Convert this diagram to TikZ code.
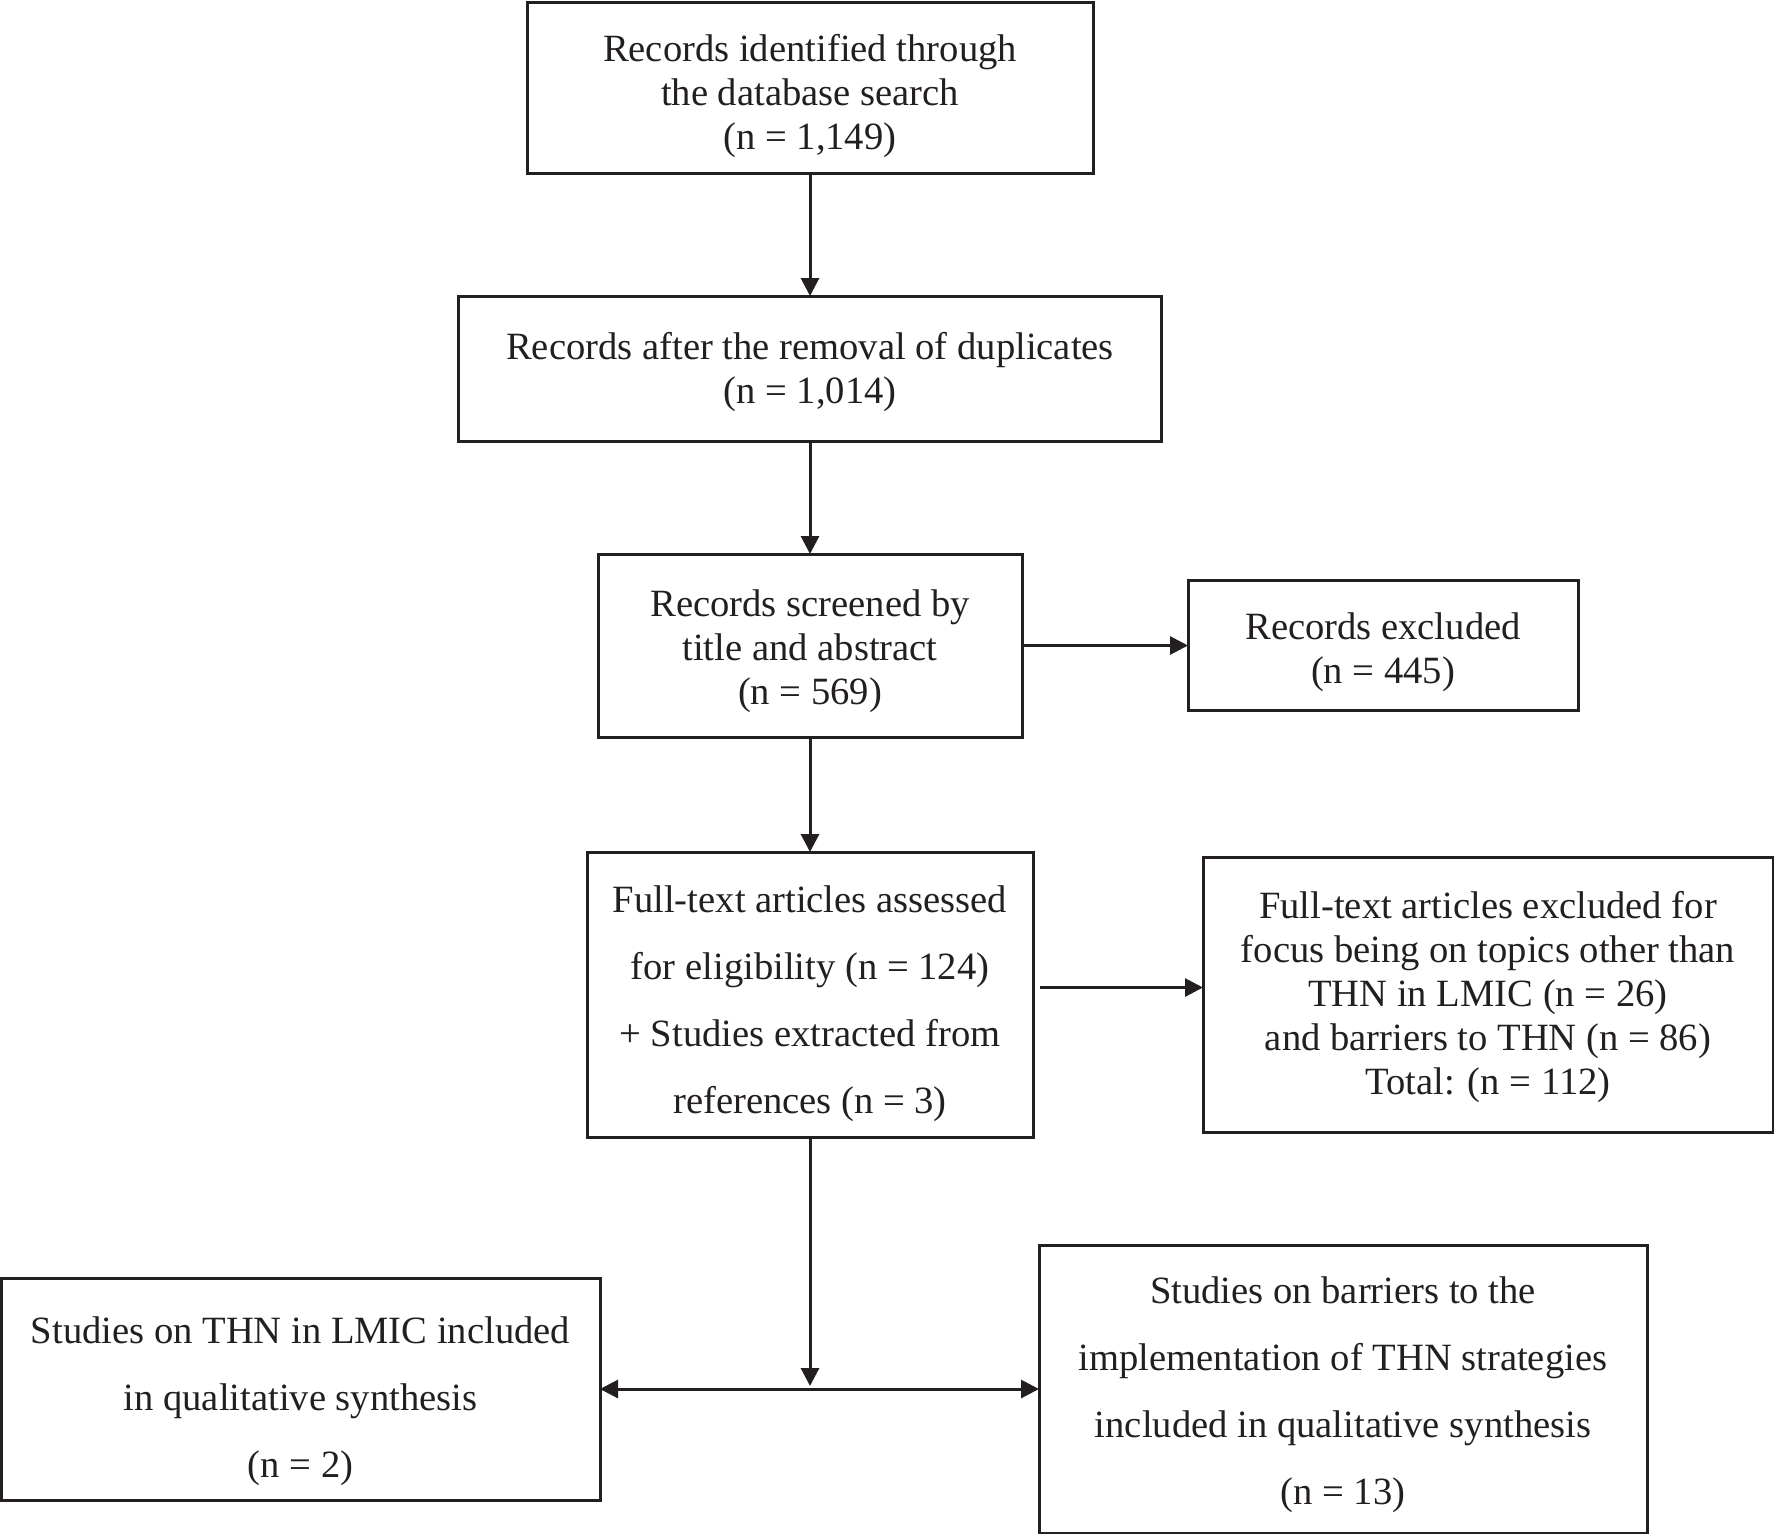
\documentclass[tikz,border=0pt]{standalone}
\usepackage{fontspec}
\setmainfont{Liberation Serif}
\usetikzlibrary{arrows.meta, positioning}
\definecolor{ink}{RGB}{35,31,32}
\newcommand{\padtop}[1]{\rule{0pt}{#1}}
\tikzset{
  block/.style  = {rectangle, draw=ink, line width=1.5pt, align=center, text=ink,
                   inner sep=0pt, outer sep=0pt, font=\fontsize{19.3}{22}\selectfont},
  loose/.style  = {block, font=\fontsize{19.3}{33.5}\selectfont},
  arr/.style    = {-{Triangle[length=9pt,width=9pt]}, line width=1.5pt, draw=ink},
  darr/.style   = {{Triangle[length=9pt,width=9pt]}-{Triangle[length=9pt,width=9pt]}, line width=1.5pt, draw=ink}
}
\begin{document}
\begin{tikzpicture}
  \useasboundingbox (0,0) rectangle (887pt,-766.5pt);
  \node[block, minimum width=283pt, minimum height=85.5pt] (ident) at (405pt,-43.75pt)
       {\padtop{22.4pt}Records identified through\\the database search\\(n = 1,149)};
  \node[block, minimum width=351.5pt, minimum height=72.5pt, below=61.5pt of ident] (dedup)
       {\padtop{16.8pt}Records after the removal of duplicates\\(n = 1,014)};
  \node[block, minimum width=212pt, minimum height=91.5pt, below=56.5pt of dedup] (screen)
       {\padtop{19pt}Records screened by\\title and abstract\\(n = 569)};
  \node[block, minimum width=195pt, minimum height=65pt, right=83pt of screen] (excl)
       {\padtop{20.5pt}Records excluded\\(n = 445)};
  \node[loose, minimum width=223pt, minimum height=142.5pt, below=57.5pt of screen] (full)
       {\padtop{22.4pt}Full-text articles assessed\\for eligibility (n = 124)\\+ Studies extracted from\\references (n = 3)};
  \node[block, minimum width=285pt, minimum height=137.5pt, right=85pt of full] (fexcl)
       {\padtop{15.7pt}Full-text articles excluded for\\focus being on topics other than\\THN in LMIC (n = 26)\\and barriers to THN (n = 86)\\Total: (n = 112)};
  \coordinate[below=126pt of full.south] (split);
  \node[loose, minimum width=299.5pt, minimum height=111pt, left=105pt of split] (lmic)
       {\padtop{25.8pt}Studies on THN in LMIC included\\in qualitative synthesis\\(n = 2)};
  \node[loose, minimum width=304pt, minimum height=144pt, right=114.5pt of split] (barr)
       {\padtop{19pt}Studies on barriers to the\\implementation of THN strategies\\included in qualitative synthesis\\(n = 13)};
  \draw[arr] (ident) -- (dedup);
  \draw[arr] (dedup) -- (screen);
  \draw[arr] (screen) -- (full);
  \draw[arr] (screen) -- (excl);
  \draw[arr, shorten <=3.5pt] ([yshift=3.5pt]full.east) -- ([yshift=3.5pt]fexcl.west);
  \draw[arr, shorten >=1.5pt] (full) -- (split);
  \draw[darr] (lmic) -- (barr);
\end{tikzpicture}
\end{document}
